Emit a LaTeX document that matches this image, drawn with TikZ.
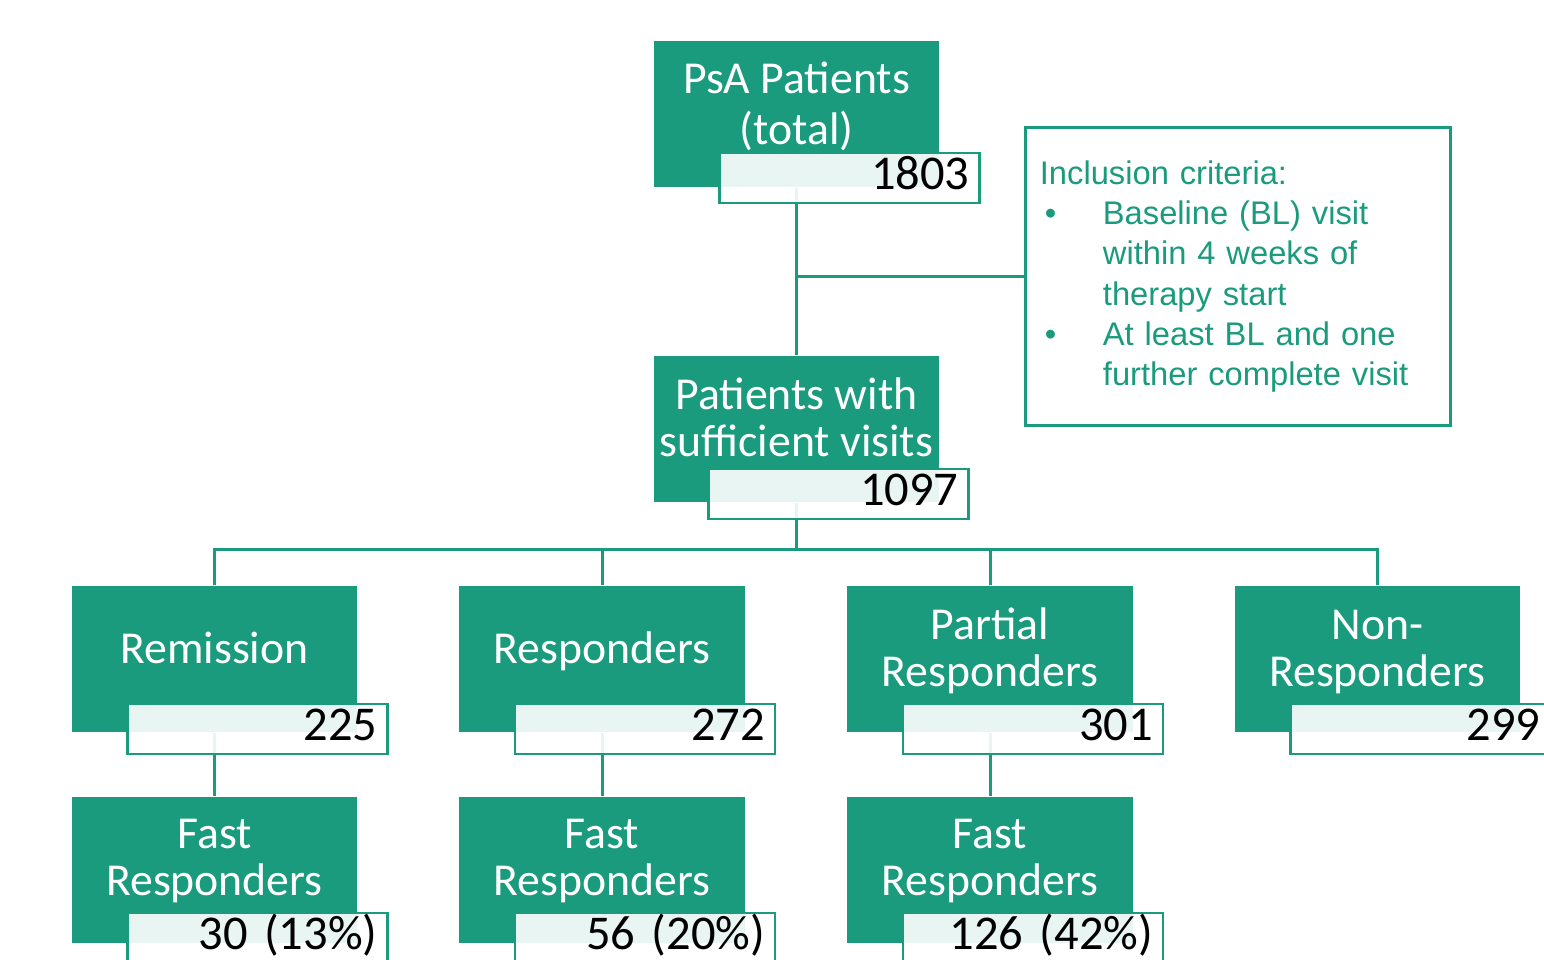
\documentclass[tikz,border=0pt]{standalone}
\usepackage{fontspec}
\setmainfont{Carlito}
\newfontfamily\critfont{Liberation Sans}
\usepackage{tikz}
\usetikzlibrary{positioning}
\definecolor{psagreen}{RGB}{27,155,125}

\tikzset{
  catbox/.style={fill=psagreen, minimum width=2.85cm, minimum height=1.46cm, inner sep=0pt},
  cattext/.style={text=white, align=center, inner sep=0pt, yshift=0.05cm,
    font=\fontsize{13}{13.4}\selectfont},
  numbox/.style={draw=psagreen, line width=0.025cm, fill=white, fill opacity=0.9, text opacity=1,
    minimum width=2.6cm, minimum height=0.5cm, inner xsep=0.1cm, inner ysep=0pt, text width=2.4cm,
    align=right, text height=0.3cm, text depth=0.08cm, anchor=north east,
    font=\fontsize{13.8}{14}\selectfont},
  critbox/.style={draw=psagreen, line width=0.03cm, text=psagreen, align=left, text width=3.96cm,
    inner xsep=0.14cm, minimum height=2.97cm, font=\critfont\fontsize{9.3}{11.4}\selectfont},
  link/.style={draw=psagreen, line width=0.03cm}
}

\begin{document}
\begin{tikzpicture}[x=0.01cm, y=-0.01cm]
    \useasboundingbox (0,0) rectangle (1544,960);

    % green boxes
    \node[catbox] (psa) at (796.5,114) {};
    \node[catbox] (pat) at (796.5,429) {};
    \node[catbox] (rem) at (214.5,659) {};
    \node[catbox] (resp) at (602,659) {};
    \node[catbox] (part) at (990,659) {};
    \node[catbox] (non) at (1377.5,659) {};
    \node[catbox] (fastrem) at (214.5,870) {};
    \node[catbox] (fastresp) at (602,870) {};
    \node[catbox] (fastpart) at (990,870) {};

    \node[cattext, yshift=-0.01cm] (psatxt) at (psa) {\strut PsA Patients\\\strut (total)};
    \node[cattext] (pattxt) at (pat) {\strut Patients with\\\strut sufficient visits};
    \node[cattext] (remtxt) at (rem) {\strut Remission};
    \node[cattext] (resptxt) at (resp) {\strut Responders};
    \node[cattext] (parttxt) at (part) {\strut Partial\\\strut Responders};
    \node[cattext] (nontxt) at (non) {\strut Non-\\\strut Responders};
    \node[cattext, yshift=0.02cm] (fastremtxt) at (fastrem) {\strut Fast\\\strut Responders};
    \node[cattext, yshift=0.02cm] (fastresptxt) at (fastresp) {\strut Fast\\\strut Responders};
    \node[cattext, yshift=0.02cm] (fastparttxt) at (fastpart) {\strut Fast\\\strut Responders};

    % inclusion criteria
    \node[critbox] (incl) at (1238,276.5) {Inclusion criteria:\\
      \makebox[0.63cm][l]{\hspace*{0.05cm}\textbullet}Baseline (BL) visit\\
      \hspace*{0.63cm}within 4 weeks of\\
      \hspace*{0.63cm}therapy start\\
      \makebox[0.63cm][l]{\hspace*{0.05cm}\textbullet}At least BL and one\\
      \hspace*{0.63cm}further complete visit};

    % connectors
    \coordinate (bus) at (796.5,549);
    \draw[link] (psa.south) -- (pat.north);
    \draw[link] (incl.west) -- (incl.west -| psa.south);
    \draw[link] (pat.south) -- (bus);
    \foreach \n in {rem,resp,part,non}
      \draw[link] (\n.north) |- (bus);
    \foreach \n in {rem,resp,part}
      \draw[link] (\n.south) -- (fast\n.north);

    % counts
    \node[numbox] (psanum) at ([xshift=0.41cm, yshift=0.36cm]psa.south east) {1803};
    \node[numbox] (patnum) at ([xshift=0.30cm, yshift=0.35cm]pat.south east) {1097};
    \node[numbox] (remnum) at ([xshift=0.31cm, yshift=0.30cm]rem.south east) {225};
    \node[numbox] (respnum) at ([xshift=0.31cm, yshift=0.30cm]resp.south east) {272};
    \node[numbox] (partnum) at ([xshift=0.31cm, yshift=0.30cm]part.south east) {301};
    \node[numbox] (nonnum) at ([xshift=0.31cm, yshift=0.30cm]non.south east) {299};
    \node[numbox] (fastremnum) at ([xshift=0.31cm, yshift=0.32cm]fastrem.south east) {30 (13\%)};
    \node[numbox] (fastrespnum) at ([xshift=0.31cm, yshift=0.32cm]fastresp.south east) {56 (20\%)};
    \node[numbox] (fastpartnum) at ([xshift=0.31cm, yshift=0.32cm]fastpart.south east) {126 (42\%)};
\end{tikzpicture}
\end{document}
